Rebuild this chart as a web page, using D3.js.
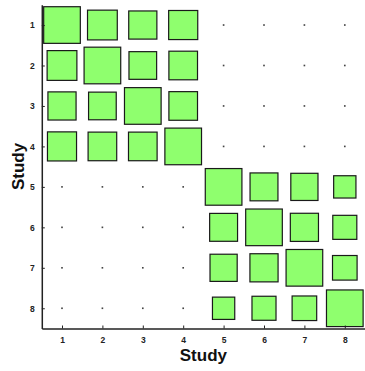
<!DOCTYPE html>
<html><head><meta charset="utf-8">
<script src="https://cdn.jsdelivr.net/npm/d3@7"></script>
<style>body{margin:0;background:#fff}svg{display:block}</style>
</head><body><svg id="c" width="365" height="371"></svg>
<script>
const studies = [1,2,3,4,5,6,7,8];
const tickLabels = ["1","2","3","4","5","6","7","8"];
// correlation-like values (symmetric blocks); near-zero elsewhere
const block1 = [
  [1.00,0.66,0.59,0.63],
  [0.66,1.00,0.57,0.61],
  [0.59,0.57,1.00,0.61],
  [0.63,0.61,0.61,1.00]
];
const block2 = [
  [1.00,0.58,0.55,0.37],
  [0.58,1.00,0.59,0.43],
  [0.55,0.59,1.00,0.45],
  [0.37,0.43,0.45,1.00]
];
const offValue = 0.002;

const cells = [];
studies.forEach((r,i)=>studies.forEach((c,j)=>{
  let v = offValue;
  if (i<4 && j<4) v = block1[i][j];
  else if (i>=4 && j>=4) v = block2[i-4][j-4];
  cells.push({row:r,col:c,v});
}));

const svg = d3.select("#c");
const L=41.8, R=365, T=4.8, B=328.5;
const x = d3.scaleLinear().domain([0.5,8.5]).range([L,R]);
const y = d3.scaleLinear().domain([0.5,8.5]).range([T,B]);
const unit = x(2)-x(1);
const side = d3.scaleSqrt().domain([0,1]).range([0,unit*0.907]);

svg.append("g").selectAll("rect").data(cells).join("rect")
  .attr("x",d=>x(d.col)-side(d.v)/2)
  .attr("y",d=>y(d.row)-side(d.v)/2)
  .attr("width",d=>side(d.v))
  .attr("height",d=>side(d.v))
  .attr("fill",d=>d.v>0.05?"#8fff6e":"#444")
  .attr("stroke",d=>d.v>0.05?"#1a1a1a":"none")
  .attr("stroke-width",1.2);

const xAxis = d3.axisBottom(x).tickValues(studies).tickFormat((d,i)=>tickLabels[i]).tickSizeInner(-3).tickSizeOuter(0).tickPadding(8);
const yAxis = d3.axisLeft(y).tickValues(studies).tickFormat((d,i)=>tickLabels[i]).tickSizeInner(-3).tickSizeOuter(0).tickPadding(7);

const gx = svg.append("g").attr("transform",`translate(0,${B})`).call(xAxis);
const gy = svg.append("g").attr("transform",`translate(${L},0)`).call(yAxis);
[gx,gy].forEach(g=>{
  g.select(".domain").attr("stroke","#222").attr("stroke-width",1.5);
  g.selectAll(".tick line").attr("stroke","#222").attr("stroke-width",1);
  g.selectAll(".tick text").attr("font-family","Liberation Sans, Arial, sans-serif").attr("font-weight","bold").attr("font-size",8.5).attr("fill","#222");
});

svg.append("text").attr("x",(L+R)/2).attr("y",361).attr("text-anchor","middle")
  .attr("font-family","Liberation Sans, Arial, sans-serif").attr("font-weight","bold").attr("font-size",17).attr("fill","#111").text("Study");
svg.append("text").attr("transform",`translate(23.5,166.5) rotate(-90)`).attr("text-anchor","middle")
  .attr("font-family","Liberation Sans, Arial, sans-serif").attr("font-weight","bold").attr("font-size",17).attr("fill","#111").text("Study");
</script></body></html>
